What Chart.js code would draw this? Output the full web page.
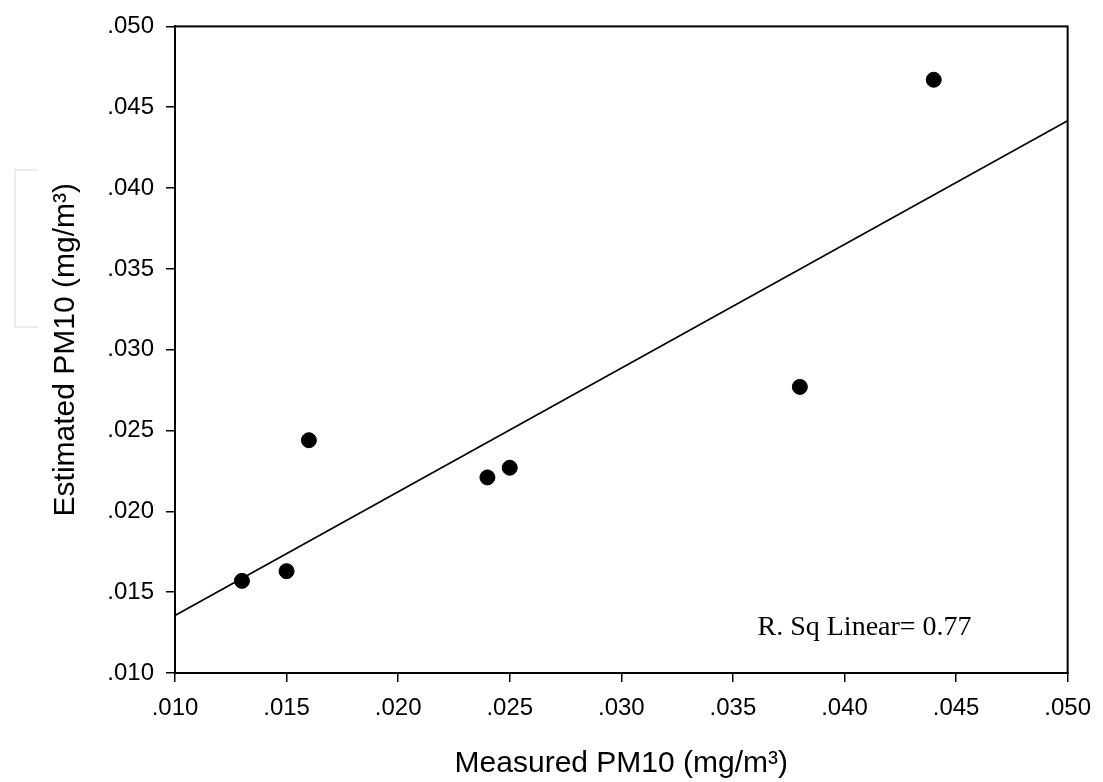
<!DOCTYPE html>
<html>
<head>
<meta charset="utf-8">
<script src="https://cdn.jsdelivr.net/npm/chart.js@4.4.1/dist/chart.umd.min.js"></script>
<style>
  html, body { margin: 0; padding: 0; background: #fff; }
  #wrap { width: 1103px; height: 782px; position: relative; }
</style>
</head>
<body>
<div id="wrap"><canvas id="pmChart" width="1103" height="782"></canvas></div>
<script>
// Measured vs estimated PM10 (mg/m3)
const measured = [0.013, 0.015, 0.016, 0.024, 0.025, 0.038, 0.044];
const estimated = [0.0157, 0.0163, 0.0244, 0.0221, 0.0227, 0.0277, 0.0467];

// fitted line as drawn, read at the two axis ends
const fitX = [0.010, 0.050];
const fitY = [0.01356, 0.04416];

const axisMin = 0.010;
const axisMax = 0.050;
const axisStep = 0.005;

const rsqLabel = 'R. Sq Linear= 0.77';
const rsqAt = { x: 0.0409, y: 0.0128 };

const fmtTick = v => v.toFixed(3).replace(/^0/, '');

// full frame round the plot area
const framePlugin = {
    id: 'frame',
    afterDatasetsDraw(chart) {
        const { ctx, chartArea: a, scales } = chart;
        ctx.save();
        ctx.strokeStyle = '#000';
        ctx.lineWidth = 2;
        ctx.strokeRect(a.left, a.top, a.right - a.left, a.bottom - a.top);

        // r squared note
        ctx.fillStyle = '#000';
        ctx.font = '28px "Liberation Serif", "DejaVu Serif", serif';
        ctx.textAlign = 'center';
        ctx.textBaseline = 'middle';
        ctx.fillText(rsqLabel, scales.x.getPixelForValue(rsqAt.x), scales.y.getPixelForValue(rsqAt.y));

        // faint bracket left of the y title
        ctx.strokeStyle = '#e6e6e6';
        ctx.lineWidth = 1.5;
        ctx.beginPath();
        ctx.moveTo(38, 170);
        ctx.lineTo(15, 170);
        ctx.lineTo(15, 327);
        ctx.lineTo(38, 327);
        ctx.stroke();
        ctx.restore();
    }
};

const tickFont = { family: '"Liberation Sans", Arial, sans-serif', size: 24 };
const titleFont = { family: '"Liberation Sans", Arial, sans-serif', size: 30 };

new Chart(document.getElementById('pmChart'), {
    type: 'scatter',
    data: {
        datasets: [
            {
                label: 'PM10',
                data: measured.map((m, i) => ({ x: m, y: estimated[i] })),
                backgroundColor: '#000',
                borderColor: '#000',
                pointRadius: 7.5,
                pointHoverRadius: 7.5
            },
            {
                label: 'Linear fit',
                type: 'line',
                data: fitX.map((x, i) => ({ x: x, y: fitY[i] })),
                borderColor: '#000',
                borderWidth: 1.6,
                pointRadius: 0,
                fill: false
            }
        ]
    },
    options: {
        responsive: false,
        animation: false,
        layout: { padding: { left: 0, top: 24, right: 29, bottom: 0 } },
        plugins: {
            legend: { display: false },
            tooltip: { enabled: false }
        },
        scales: {
            x: {
                type: 'linear',
                min: axisMin,
                max: axisMax,
                afterFit(scale) { scale.height = 109; },
                ticks: {
                    stepSize: axisStep,
                    color: '#000',
                    font: tickFont,
                    padding: 12,
                    maxRotation: 0,
                    callback: fmtTick
                },
                grid: { drawOnChartArea: false, color: '#000', lineWidth: 1.5, tickLength: 9 },
                border: { color: '#000', width: 2 },
                title: {
                    display: true,
                    text: 'Measured PM10 (mg/m³)',
                    color: '#000',
                    font: titleFont,
                    padding: { top: 0, bottom: 0 }
                }
            },
            y: {
                type: 'linear',
                min: axisMin,
                max: axisMax,
                afterFit(scale) { scale.width = 175; },
                ticks: {
                    stepSize: axisStep,
                    color: '#000',
                    font: tickFont,
                    padding: 12,
                    callback: fmtTick
                },
                grid: { drawOnChartArea: false, color: '#000', lineWidth: 1.5, tickLength: 9 },
                border: { color: '#000', width: 2 },
                title: {
                    display: true,
                    text: 'Estimated PM10 (mg/m³)',
                    color: '#000',
                    font: titleFont,
                    padding: { top: 48, bottom: 0 }
                }
            }
        }
    },
    plugins: [framePlugin]
});
</script>
</body>
</html>
